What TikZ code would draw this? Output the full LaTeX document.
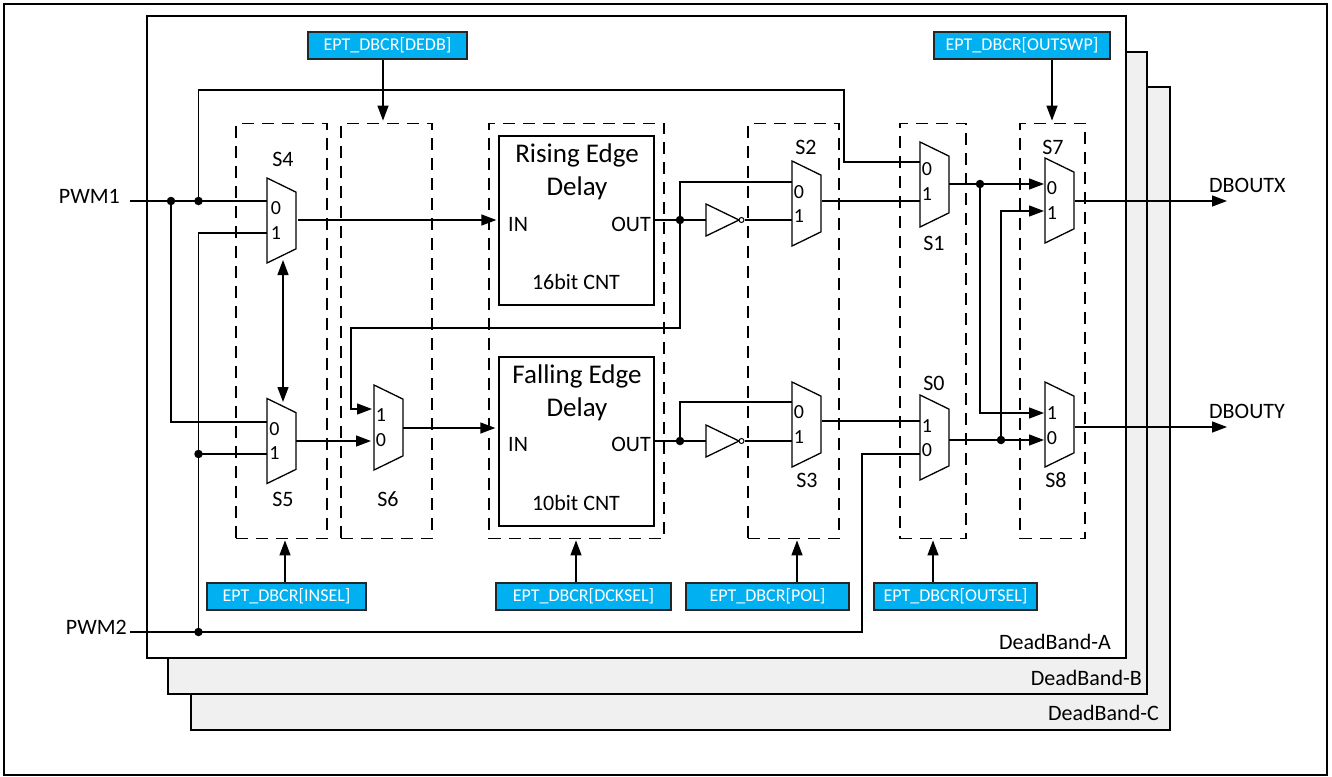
\documentclass[tikz,border=0pt]{standalone}
\usepackage{fontspec}
\setmainfont{Carlito}
\usetikzlibrary{arrows.meta,shapes.geometric}

\begin{document}
\begin{tikzpicture}[x=1pt,y=-1pt,line join=miter,
    wire/.style={line width=1.3pt},
    sig/.style={wire,-{Triangle[length=15pt,width=11pt]}},
    sigboth/.style={wire,{Triangle[length=15pt,width=11pt]}-{Triangle[length=15pt,width=11pt]}},
    band/.style={draw,line width=1.3pt,fill=white,rectangle,inner sep=0pt},
    bandgrey/.style={band,fill=black!6},
    dashbox/.style={draw,line width=1.3pt,dash pattern=on 12pt off 8pt,rectangle,inner sep=0pt,minimum height=415.5pt},
    delaybox/.style={draw,line width=1.3pt,rectangle,inner sep=0pt,minimum width=155pt,minimum height=169pt},
    regbox/.style={draw=black!85,line width=1.3pt,fill=regblue,text=white,rectangle,inner sep=0pt,minimum height=27pt,font=\fontsize{18}{20}\selectfont},
    muxbox/.style={draw,line width=1.3pt,fill=white,trapezium,trapezium stretches=true,shape border rotate=270,trapezium angle=76,minimum width=85pt,minimum height=29pt,inner sep=1pt,outer sep=0pt},
    bubble/.style={draw,line width=1pt,fill=white,circle,inner sep=0pt,minimum size=5pt},
    dotnode/.style={fill=black,circle,inner sep=0pt,minimum size=8.5pt},
    label/.style={font=\fontsize{22}{24}\selectfont,inner sep=0pt},
    title/.style={font=\fontsize{27}{33}\selectfont,align=center,inner sep=0pt},
    muxnum/.style={font=\fontsize{20}{22}\selectfont,inner sep=0pt}]
  \definecolor{regblue}{HTML}{00B0F0}
  \useasboundingbox (0,0) rectangle (1332,776);
  \draw[line width=1.5pt] (4,4) rectangle (1327,775);

  % stacked blocks
  \node[bandgrey,minimum width=979pt,minimum height=643pt] (bandc) at (680.5,408.5) {};
  \node[bandgrey,minimum width=979pt,minimum height=642pt] (bandb) at (657.5,373) {};
  \node[band,minimum width=979pt,minimum height=642pt] (banda) at (636.5,337) {};
  \node[label,anchor=east] (bandalbl) at (1111,642) {DeadBand-A};
  \node[label,anchor=east] (bandblbl) at (1142,678) {DeadBand-B};
  \node[label,anchor=east] (bandclbl) at (1159,713) {DeadBand-C};

  % selector groups
  \node[dashbox,minimum width=91pt] (gfour) at (281.5,331) {};
  \node[dashbox,minimum width=91pt] (gsix) at (386.5,331) {};
  \node[dashbox,minimum width=175pt] (gdelay) at (576.5,331) {};
  \node[dashbox,minimum width=91pt] (gpol) at (793.5,331) {};
  \node[dashbox,minimum width=66pt] (gout) at (933,331) {};
  \node[dashbox,minimum width=65pt] (gswap) at (1052.5,331) {};

  % delay blocks
  \node[delaybox] (rise) at (576.5,220.5) {};
  \node[delaybox] (fall) at (576.5,441.5) {};
  \node[title] (risetitle) at (577,171.5) {Rising Edge\\Delay};
  \node[title] (falltitle) at (577,392.5) {Falling Edge\\Delay};
  \node[label,anchor=west] (risein) at (508,224) {IN};
  \node[label,anchor=east] (riseout) at (651,224) {OUT};
  \node[label] (risecnt) at (576,282) {16bit CNT};
  \node[label,anchor=west] (fallin) at (508,444) {IN};
  \node[label,anchor=east] (fallout) at (651,444) {OUT};
  \node[label] (fallcnt) at (576,503) {10bit CNT};

  % registers
  \node[regbox,minimum width=159pt] (dedb) at (387.5,45.5) {EPT\_DBCR[DEDB]};
  \node[regbox,minimum width=176pt] (outswp) at (1022,45.5) {EPT\_DBCR[OUTSWP]};
  \node[regbox,minimum width=159pt] (insel) at (286.5,596.5) {EPT\_DBCR[INSEL]};
  \node[regbox,minimum width=175pt] (dcksel) at (583.5,596.5) {EPT\_DBCR[DCKSEL]};
  \node[regbox,minimum width=163pt] (pol) at (767.5,596.5) {EPT\_DBCR[POL]};
  \node[regbox,minimum width=163pt] (outsel) at (955.5,596.5) {EPT\_DBCR[OUTSEL]};
  \draw[sig,shorten >=2pt] (dedb.south -| 383,0) -- (gsix.north -| 383,0);
  \draw[sig,shorten >=2pt] (outswp.south -| 1052,0) -- (gswap.north -| 1052,0);
  \draw[sig,shorten >=1pt] (insel.north -| 285,0) -- (gfour.south -| 285,0);
  \draw[sig,shorten >=1pt] (dcksel.north -| 576,0) -- (gdelay.south -| 576,0);
  \draw[sig,shorten >=1pt] (pol.north -| 797,0) -- (gpol.south -| 797,0);
  \draw[sig,shorten >=1pt] (outsel.north -| 933,0) -- (gout.south -| 933,0);

  % selectors: name/centre x/centre y/first port/second port/output
  \foreach \nm/\cx/\cy/\pa/\pb/\po in {s4/281.5/220.5/201/233/220,s5/281.5/441/422/454/441,
      s6/388.5/427.5/409/441/428,s2/806.5/203.5/182/220/201,s3/806.5/424.5/402/441/421,
      s1/934.5/184.5/162/201/184,s0/934.5/437.5/421/454/440,s7/1059.5/200.5/184/211/201,
      s8/1059.5/424.5/413/440/427} {
    \node[muxbox] (\nm) at (\cx,\cy) {};
    \coordinate (\nm a) at (\cx-14.5,\pa);
    \coordinate (\nm b) at (\cx-14.5,\pb);
    \coordinate (\nm y) at (\cx+14.5,\po);
  }
  \foreach \nm/\tx/\xa/\ya in {s4d0/0/276/208,s4d1/1/276/233,s5d0/0/274.5/429,s5d1/1/274.5/453,
      s6d1/1/381/415,s6d0/0/381/440,s2d0/0/799/192,s2d1/1/799/216,s3d0/0/799/412,s3d1/1/799/437,
      s1d0/0/927/169,s1d1/1/927/194,s0d1/1/927/426,s0d0/0/927/450,s7d0/0/1052/188,s7d1/1/1052/213,
      s8d1/1/1052/413,s8d0/0/1052/438} {
    \node[muxnum] (\nm) at (\xa,\ya) {\tx};
  }
  \foreach \nm/\tx/\xa/\ya in {s4lbl/S4/283/159,s5lbl/S5/283/499,s6lbl/S6/388/499,s2lbl/S2/806/147,
      s3lbl/S3/807/480,s1lbl/S1/934/243,s0lbl/S0/934/383,s7lbl/S7/1053/147,s8lbl/S8/1056/480} {
    \node[label] (\nm) at (\xa,\ya) {\tx};
  }

  % inverters
  \coordinate (invr) at (706,220);
  \draw[wire,fill=white] (invr) -- (706,204) -- (739,220) -- (706,236) -- cycle;
  \node[bubble] (bubr) at (741.5,220) {};
  \coordinate (invf) at (706,441);
  \draw[wire,fill=white] (invf) -- (706,425) -- (739,441) -- (706,457) -- cycle;
  \node[bubble] (bubf) at (741.5,441) {};

  % junctions
  \node[dotnode] (dota) at (171,201) {};
  \node[dotnode] (dotb) at (198.5,201) {};
  \node[dotnode] (dotc) at (198.5,454) {};
  \node[dotnode] (dotd) at (198.5,632) {};
  \node[dotnode] (dote) at (680,220) {};
  \node[dotnode] (dotf) at (680,441) {};
  \node[dotnode] (dotg) at (980,184) {};
  \node[dotnode] (doth) at (1001,440) {};

  % inputs and outputs
  \node[label,anchor=east] (pwma) at (120,196) {PWM1};
  \node[label,anchor=east] (pwmb) at (127,627) {PWM2};
  \node[label,anchor=west] (outx) at (1209,185) {DBOUTX};
  \node[label,anchor=west] (outy) at (1209,411) {DBOUTY};
  \coordinate (pwmain) at (130,201);
  \coordinate (pwmbin) at (130,632);
  \coordinate (outxend) at (1227,201);
  \coordinate (outyend) at (1227,427);
  \coordinate (fourlink) at (283,260);
  \coordinate (fivelink) at (283,402);

  \draw[wire] (pwmain) -- (s4a);
  \draw[wire] (dota.center) |- (s5a);
  \draw[wire] (dotb.center) |- (844,90) |- (s1a);
  \draw[wire] (dotd.center) |- (s4b);
  \draw[wire] (dotc.center) -- (s5b);
  \draw[wire] (pwmbin) -- (862,632) |- (s0b);
  \draw[sigboth] (fourlink) -- (fivelink);
  \draw[sig,shorten <=2pt,shorten >=2pt] (s4y) -- (rise.west |- s4y);
  \draw[sig,shorten >=3pt] (s5y) -- (s6b);
  \draw[sig,shorten >=3pt] (s6y) -- (fall.west |- s6y);
  \draw[sig,shorten >=2pt] (dote.center) -- (680,328) -- (351,328) |- (s6a);
  \draw[wire] (rise.east |- invr) -- (invr);
  \draw[wire] (dote.center) |- (s2a);
  \draw[wire] (bubr) -- (s2b);
  \draw[wire] (fall.east |- invf) -- (invf);
  \draw[wire] (dotf.center) |- (s3a);
  \draw[wire] (bubf) -- (s3b);
  \draw[wire,shorten <=1pt] (s2y) -- (s1b);
  \draw[wire,shorten <=1pt] (s3y) -- (s0a);
  \draw[sig,shorten >=1pt] (s1y) -- (s7a);
  \draw[sig,shorten >=1pt] (dotg.center) |- (s8a);
  \draw[sig,shorten >=1pt] (s0y) -- (s8b);
  \draw[sig,shorten >=1pt] (doth.center) |- (s7b);
  \draw[sig,shorten <=1pt] (s7y) -- (outxend);
  \draw[sig,shorten <=1pt] (s8y) -- (outyend);
\end{tikzpicture}
\end{document}
